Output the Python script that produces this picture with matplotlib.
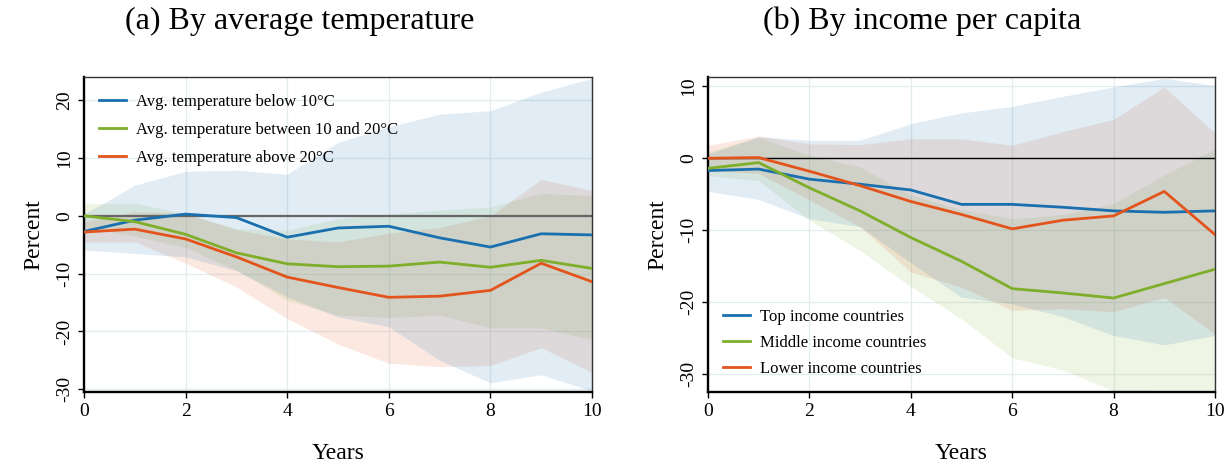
import matplotlib
matplotlib.use("Agg")
import matplotlib.pyplot as plt
import numpy as np

plt.rcParams["font.family"] = ["Liberation Serif", "DejaVu Serif"]
plt.rcParams["axes.unicode_minus"] = False

YEARS = np.arange(0, 11)

# (a) by average temperature
TEMP_LOW = [-2.7, -0.75, 0.3, -0.3, -3.7, -2.1, -1.8, -3.8, -5.4, -3.1, -3.3]
TEMP_LOW_LO = [-5.9, -6.5, -7.1, -9.5, -14.0, -17.5, -19.2, -25.0, -28.9, -27.5, -30.3]
TEMP_LOW_HI = [0.3, 5.3, 7.7, 7.9, 7.2, 12.7, 15.4, 17.6, 18.2, 21.4, 23.8]
TEMP_MID = [0.0, -1.0, -3.2, -6.4, -8.3, -8.8, -8.7, -8.0, -8.9, -7.7, -9.1]
TEMP_MID_LO = [-2.0, -3.5, -5.5, -9.4, -14.6, -17.2, -17.6, -17.2, -19.4, -19.4, -21.4]
TEMP_MID_HI = [2.1, 2.2, 0.3, -2.2, -2.5, -0.5, 0.3, 1.0, 1.5, 3.9, 3.5]
TEMP_HIGH = [-2.8, -2.3, -4.0, -7.1, -10.6, -12.4, -14.1, -13.9, -12.9, -8.2, -11.4]
TEMP_HIGH_LO = [-4.5, -4.5, -8.2, -12.3, -17.8, -22.2, -25.5, -26.1, -25.9, -22.8, -27.1]
TEMP_HIGH_HI = [-1.0, 0.7, 0.5, -2.4, -4.0, -4.5, -3.0, -2.0, 0.0, 6.3, 4.4]
TEMP_LABELS = ["Avg. temperature below 10°C",
               "Avg. temperature between 10 and 20°C",
               "Avg. temperature above 20°C"]

# (b) by income per capita
INC_TOP = [-1.7, -1.5, -2.9, -3.6, -4.4, -6.4, -6.4, -6.8, -7.3, -7.5, -7.3]
INC_TOP_LO = [-4.6, -5.7, -8.4, -9.5, -14.5, -19.3, -20.2, -22.0, -24.6, -25.9, -24.6]
INC_TOP_HI = [0.6, 3.0, 2.5, 2.5, 4.8, 6.3, 7.2, 8.6, 9.9, 11.1, 10.1]
INC_MID = [-1.4, -0.6, -4.1, -7.3, -11.0, -14.3, -18.1, -18.7, -19.4, -17.4, -15.4]
INC_MID_LO = [-2.4, -3.1, -8.6, -12.8, -17.8, -22.3, -27.7, -29.4, -32.3, -32.2, -32.2]
INC_MID_HI = [0.9, 2.9, 0.4, -1.2, -5.1, -7.1, -8.4, -7.8, -6.3, -2.3, 1.3]
INC_LOW = [0.0, 0.1, -1.8, -3.8, -6.0, -7.8, -9.8, -8.6, -8.0, -4.6, -10.6]
INC_LOW_LO = [-1.7, -2.1, -5.8, -9.5, -15.8, -17.9, -21.1, -20.9, -21.3, -19.3, -24.4]
INC_LOW_HI = [1.8, 3.1, 2.0, 1.9, 2.7, 2.7, 1.8, 3.7, 5.4, 9.9, 3.5]
INC_LABELS = ["Top income countries", "Middle income countries",
              "Lower income countries"]

COLORS = ["#1a6faf", "#7fae2a", "#e3541c"]
BAND_ALPHAS = [0.13, 0.12, 0.13]


def draw_panel(ax, series, labels, ylim, yticks, zero_color, zero_lw):
    ax.grid(True, color="#e3ecee", linewidth=0.9, zorder=0)
    ax.set_axisbelow(True)
    # bands drawn in reverse order (orange, green, blue) for greyer overlaps
    for (mid, lo, hi), color, a in list(zip(series, COLORS, BAND_ALPHAS))[::-1]:
        ax.fill_between(YEARS, lo, hi, color=color, alpha=a,
                        linewidth=0, zorder=1)
    ax.axhline(0, color=zero_color, linewidth=zero_lw, zorder=2)
    for (mid, lo, hi), color, label in zip(series, COLORS, labels):
        ax.plot(YEARS, mid, color=color, linewidth=2.0, label=label, zorder=3)

    ax.set_xlim(0, 10)
    ax.set_ylim(*ylim)
    ax.set_xticks([0, 2, 4, 6, 8, 10])
    ax.set_yticks(yticks)
    ax.tick_params(axis="both", direction="out", length=4.5, width=1,
                   labelsize=14, color="black")
    for lab in ax.get_yticklabels():
        lab.set_rotation(90)
        lab.set_va("center")
    ax.set_xlabel("Years", fontsize=17, labelpad=16)
    ax.set_ylabel("Percent", fontsize=17, labelpad=8)
    for side in ["top", "right"]:
        ax.spines[side].set_linewidth(1.0)
        ax.spines[side].set_color("#333333")
    for side in ["bottom", "left"]:
        ax.spines[side].set_linewidth(1.7)
        ax.spines[side].set_color("black")


fig = plt.figure(figsize=(12.3, 4.66), dpi=100)
ax1 = fig.add_axes([84 / 1230, 0.158, 508 / 1230, 0.677])
ax2 = fig.add_axes([708 / 1230, 0.158, 507 / 1230, 0.677])

draw_panel(ax1,
           [(TEMP_LOW, TEMP_LOW_LO, TEMP_LOW_HI),
            (TEMP_MID, TEMP_MID_LO, TEMP_MID_HI),
            (TEMP_HIGH, TEMP_HIGH_LO, TEMP_HIGH_HI)],
           TEMP_LABELS, (-30.55, 24.05), [-30, -20, -10, 0, 10, 20],
           "#666666", 1.6)
draw_panel(ax2,
           [(INC_TOP, INC_TOP_LO, INC_TOP_HI),
            (INC_MID, INC_MID_LO, INC_MID_HI),
            (INC_LOW, INC_LOW_LO, INC_LOW_HI)],
           INC_LABELS, (-32.5, 11.3), [-30, -20, -10, 0, 10],
           "black", 1.0)

ax1.legend(loc="upper left", bbox_to_anchor=(0.03, 0.945), frameon=False,
           fontsize=12, handlelength=1.6, handletextpad=0.6,
           labelspacing=0.72, borderaxespad=0, borderpad=0)
ax2.legend(loc="lower left", bbox_to_anchor=(0.03, 0.05), frameon=False,
           fontsize=12, handlelength=1.6, handletextpad=0.6,
           labelspacing=0.6, borderaxespad=0, borderpad=0)

fig.text(0.244, 0.955, "(a) By average temperature", fontsize=23,
         ha="center", va="center")
fig.text(0.75, 0.955, "(b) By income per capita", fontsize=23,
         ha="center", va="center")

fig.savefig("out.png", dpi=100)
